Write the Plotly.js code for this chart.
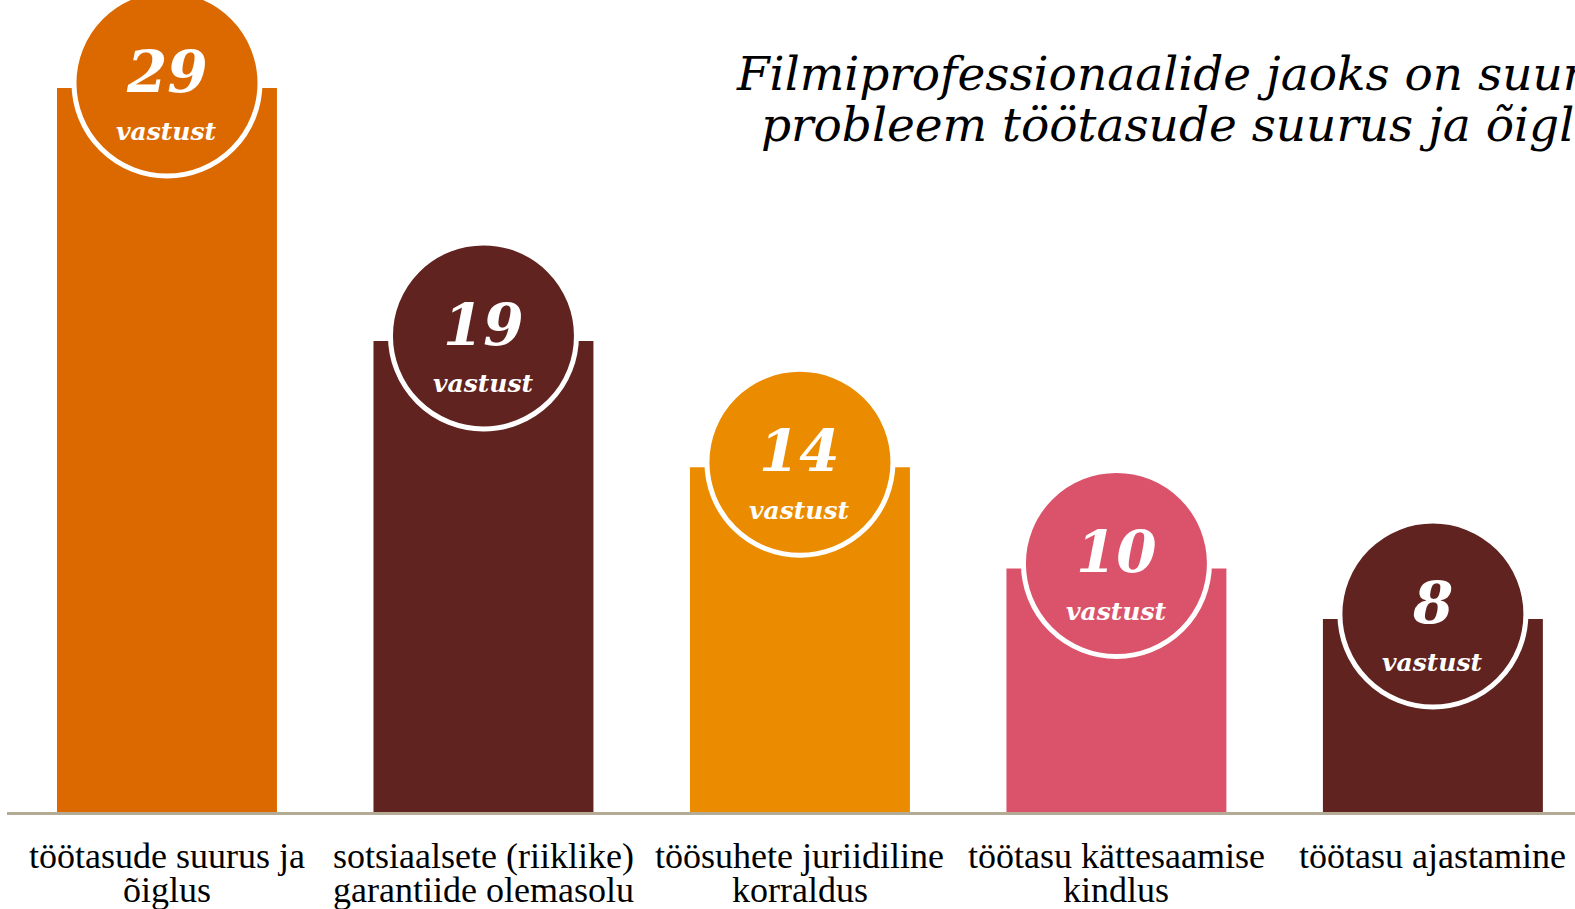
<!DOCTYPE html>
<html><head><meta charset="utf-8">
<script src="https://cdn.plot.ly/plotly-3.0.1.min.js"></script>
<style>html,body{margin:0;padding:0;background:#fff;overflow:hidden}</style>
</head><body><div id="chart" style="width:1575px;height:909px"></div>
<script>
const categories = ["töötasude suurus ja õiglus", "sotsiaalsete (riiklike) garantiide olemasolu", "töösuhete juriidiline korraldus", "töötasu kättesaamise kindlus", "töötasu ajastamine"];
const tickLabels = ["töötasude suurus ja<br>õiglus", "sotsiaalsete (riiklike)<br>garantiide olemasolu", "töösuhete juriidiline<br>korraldus", "töötasu kättesaamise<br>kindlus", "töötasu ajastamine"];
const values = [29, 19, 14, 10, 8];
const unitLabel = "vastust";
const barColors = ["#DC6900", "#602320", "#EB8C00", "#DB536A", "#602320"];
const titleLines = ["Filmiprofessionaalide jaoks on suurim", "probleem töötasude suurus ja õiglus"];

const R = 93, CY = 5;
const shapes = categories.map((c, i) => ({
  type: 'circle', xref: 'x', yref: 'y', xsizemode: 'pixel', ysizemode: 'pixel',
  xanchor: c, yanchor: values[i], x0: -R, x1: R, y0: CY - R, y1: CY + R,
  fillcolor: barColors[i], line: {color: '#ffffff', width: 5}, layer: 'above'
}));
const annotations = [];
const numFont = {family: 'DejaVu Serif', size: 58, color: '#fff', weight: 'bold', style: 'italic'};
const unitFont = {family: 'DejaVu Serif', size: 25, color: '#fff', weight: 'bold', style: 'italic'};
categories.forEach((c, i) => {
  annotations.push({x: c, y: values[i], xref: 'x', yref: 'y', text: String(values[i]), showarrow: false,
    yanchor: 'middle', yshift: CY + 11, font: numFont});
  annotations.push({x: c, y: values[i], xref: 'x', yref: 'y', text: unitLabel, showarrow: false,
    yanchor: 'middle', yshift: CY - 48, font: unitFont});
  tickLabels[i].split('<br>').forEach((line, k) => {
    annotations.push({x: c, y: 0, xref: 'x', yref: 'paper', yanchor: 'top', yshift: -22 - 34 * k,
      text: line, showarrow: false, font: {family: 'Liberation Serif', size: 36, color: '#000'}});
  });
});
const titleFont = {family: 'DejaVu Serif', size: 47, color: '#000', style: 'italic'};
annotations.push({x: 730/1575, y: 1, xref: 'paper', yref: 'paper', yanchor: 'top', yshift: -44, xanchor: 'left',
  text: titleLines[0], showarrow: false, font: titleFont});
annotations.push({x: 755/1575, y: 1, xref: 'paper', yref: 'paper', yanchor: 'top', yshift: -95, xanchor: 'left',
  text: titleLines[1], showarrow: false, font: titleFont});

const data = [{
  type: 'bar', x: categories, y: values, width: 0.695,
  marker: {color: barColors, line: {width: 0}}, hoverinfo: 'none', base: 0
}];
const layout = {
  width: 1575, height: 909, margin: {l: 7, r: 0, t: 0, b: 97},
  paper_bgcolor: '#fff', plot_bgcolor: '#fff', showlegend: false,
  xaxis: {type: 'category', range: [-0.5055, 4.449], showticklabels: false,
    showline: true, linecolor: '#b3ab96', linewidth: 3, ticks: '', showgrid: false, zeroline: false},
  yaxis: {range: [0.37, 32.48], visible: false, showgrid: false, zeroline: false},
  shapes: shapes, annotations: annotations
};
Plotly.newPlot('chart', data, layout, {staticPlot: true});
</script></body></html>
